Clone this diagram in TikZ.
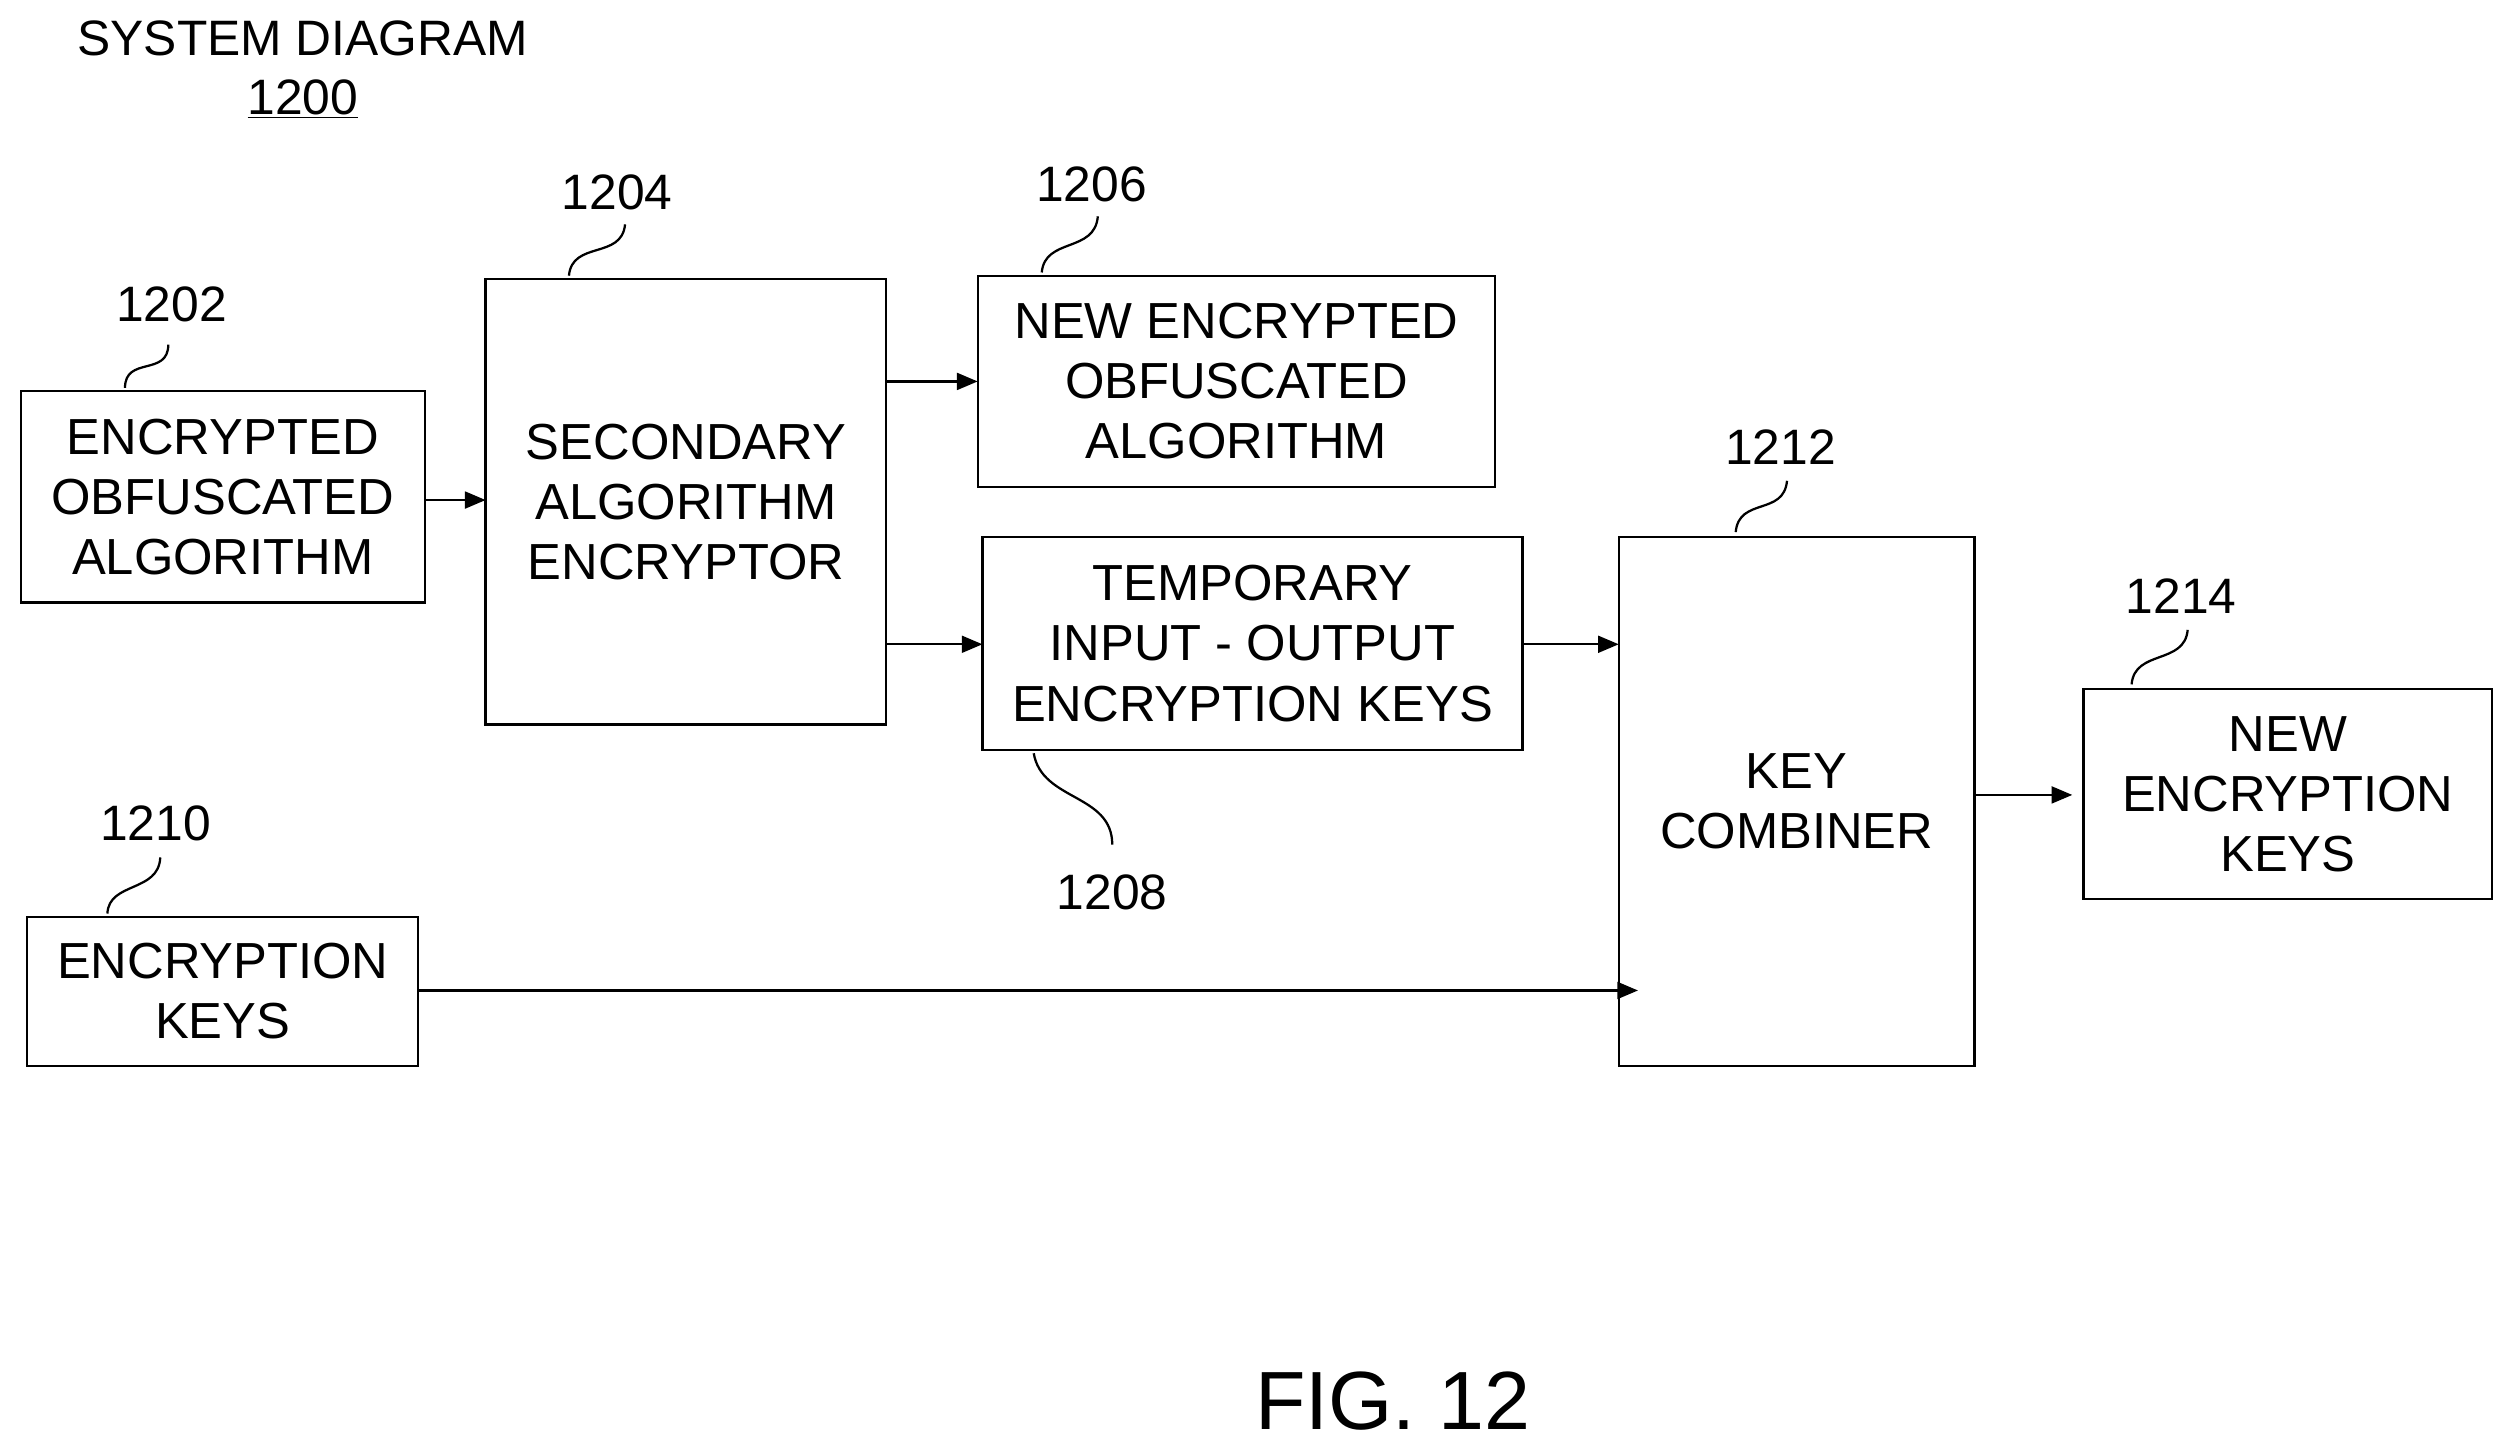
\documentclass[tikz,border=0pt]{standalone}
\usepackage{fontspec}
\setmainfont{Liberation Sans}
\usetikzlibrary{arrows.meta}
\begin{document}
\begin{tikzpicture}[x=0.03cm,y=-0.03cm,
  box/.style={draw,line width=1.2pt,align=center,font=\fontsize{27}{32}\selectfont},
  lbl/.style={font=\fontsize{26.5}{30}\selectfont},
  arr/.style={line width=1.2pt,-{Triangle[length=11pt,width=9pt]}},
  sq/.style={line width=1.2pt}]
\useasboundingbox (0,0) rectangle (1563,902);
\node[lbl] (t) at (189,24) {SYSTEM DIAGRAM};
\node[lbl] (t2) at (189,62) {\underline{1200}};
\path[box] (13,244) rectangle (265,376) node[midway,draw=none] (b1) {ENCRYPTED\\OBFUSCATED\\ALGORITHM};
\path[box] (303,174) rectangle (553,452) node[midway,draw=none] (b2) {SECONDARY\\ALGORITHM\\ENCRYPTOR};
\path[box] (610,172) rectangle (933,304) node[midway,draw=none] (b3) {NEW ENCRYPTED\\OBFUSCATED\\ALGORITHM};
\path[box] (613,335) rectangle (950,468) node[midway,draw=none] (b4) {TEMPORARY\\INPUT - OUTPUT\\ENCRYPTION KEYS};
\path[box] (17,572) rectangle (261,665) node[midway,draw=none] (b5) {ENCRYPTION\\KEYS};
\path[box] (1010,335) rectangle (1232,665) node[midway,draw=none] (b6) {KEY\\COMBINER};
\path[box] (1300,430) rectangle (1555,561) node[midway,draw=none] (b7) {NEW\\ENCRYPTION\\KEYS};
\node[lbl] (l1) at (107,190) {1202};
\node[lbl] (l2) at (385,120) {1204};
\node[lbl] (l3) at (681,115) {1206};
\node[lbl] (l4) at (694,557) {1208};
\node[lbl] (l5) at (97,514) {1210};
\node[lbl] (l6) at (1111,279) {1212};
\node[lbl] (l7) at (1361,372) {1214};
\draw[sq] (78,242) .. controls (78,222) and (105,235) .. (105,215);
\draw[sq] (355,172) .. controls (357,150) and (388,162) .. (390,140);
\draw[sq] (650,170) .. controls (652,148) and (683,158) .. (685,135);
\draw[sq] (645,470) .. controls (650,500) and (694,495) .. (694,527);
\draw[sq] (67,570) .. controls (68,550) and (99,557) .. (100,535);
\draw[sq] (1083,332) .. controls (1085,310) and (1113,322) .. (1115,300);
\draw[sq] (1330,427) .. controls (1332,405) and (1363,415) .. (1365,393);
\draw[arr] (265,312) -- (303,312);
\draw[arr] (553,238) -- (610,238);
\draw[arr] (553,402) -- (613,402);
\draw[arr] (950,402) -- (1010,402);
\draw[arr] (261,618) -- (1022,618);
\draw[arr] (1232,496) -- (1293,496);
\node[font=\fontsize{44}{50}\selectfont] (fig) at (869,874) {FIG. 12};
\end{tikzpicture}
\end{document}
